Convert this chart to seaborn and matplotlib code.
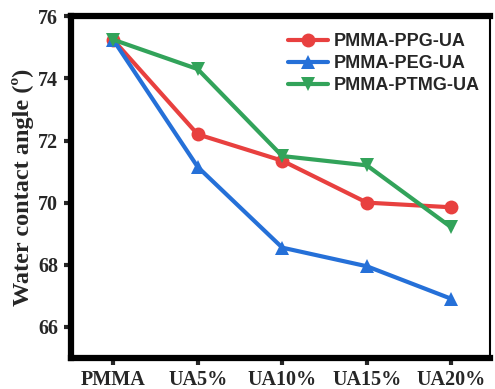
import matplotlib
matplotlib.use("Agg")
import matplotlib.pyplot as plt
import seaborn as sns
import pandas as pd

categories = ["PMMA", "UA5%", "UA10%", "UA15%", "UA20%"]
ppg = [75.25, 72.2, 71.35, 70.0, 69.85]
peg = [75.25, 71.15, 68.55, 67.95, 66.9]
ptmg = [75.25, 74.3, 71.5, 71.2, 69.2]
series_names = ["PMMA-PPG-UA", "PMMA-PEG-UA", "PMMA-PTMG-UA"]
y_ticks = [66, 68, 70, 72, 74, 76]

sns.set_style("white")

rows = []
for name, vals in zip(series_names, [ppg, peg, ptmg]):
    for i, (c, v) in enumerate(zip(categories, vals)):
        rows.append({"pos": i, "cat": c, "angle": v, "series": name})
df = pd.DataFrame(rows)

palette = {"PMMA-PPG-UA": "#e8403f", "PMMA-PEG-UA": "#2570d8", "PMMA-PTMG-UA": "#32a35a"}
markers = {"PMMA-PPG-UA": "o", "PMMA-PEG-UA": "^", "PMMA-PTMG-UA": "v"}

fig = plt.figure(figsize=(4.95, 3.89), dpi=100)
ax = fig.add_axes([0.143, 0.08, 0.846, 0.878])

sns.lineplot(data=df, x="pos", y="angle", hue="series", style="series",
             palette=palette, markers=markers, dashes=False, markersize=10,
             linewidth=3, markeredgewidth=0, ax=ax)

ax.set_xlim(-0.5, 4.45)
ax.set_ylim(65, 76)
ax.set_xticks(range(len(categories)))
ax.set_xticklabels(categories)
ax.set_yticks(y_ticks)
ax.set_xlabel("")
ax.set_ylabel("Water contact angle (º)", fontsize=17.5, fontweight="bold",
              family="Liberation Serif", labelpad=3)

for lab in ax.get_xticklabels() + ax.get_yticklabels():
    lab.set_family("Liberation Serif")
    lab.set_fontweight("bold")
    lab.set_fontsize(14.5)

ax.tick_params(axis="both", direction="out", length=5, width=3, pad=4,
               left=True, bottom=True, top=False, right=False)
for side in ["left", "bottom", "top"]:
    ax.spines[side].set_linewidth(4.5)
    ax.spines[side].set_color("black")
ax.spines["right"].set_linewidth(1.5)
ax.spines["right"].set_color("black")

leg = ax.legend(loc="upper right", frameon=False, handlelength=2.2,
                handletextpad=0.3, labelspacing=0.28, borderaxespad=0.4,
                bbox_to_anchor=(1.01, 0.993),
                prop={"family": "Liberation Sans", "weight": "bold", "size": 13})

fig.savefig("out.png", dpi=100)
